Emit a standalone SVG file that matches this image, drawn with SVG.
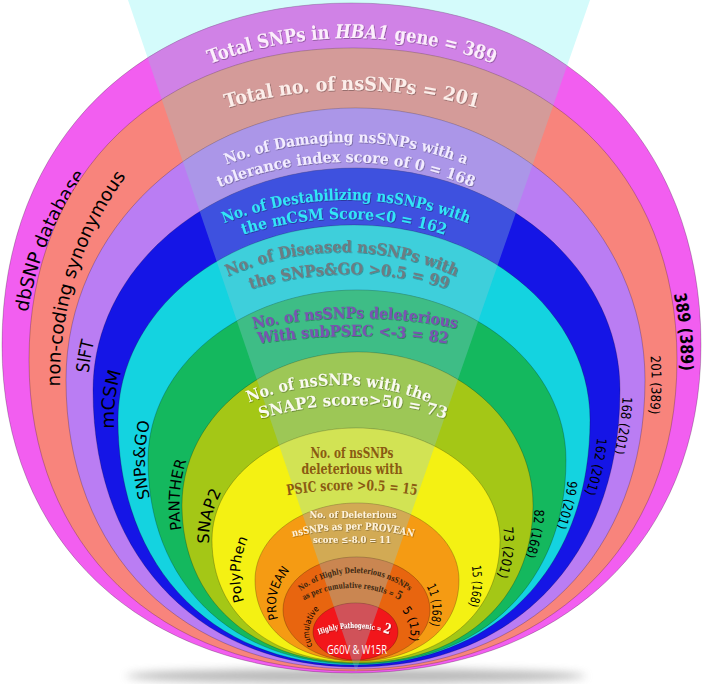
<svg xmlns="http://www.w3.org/2000/svg" width="703" height="684" viewBox="0 0 703 684">
<defs>
<style>
.t{font-family:"DejaVu Serif","Liberation Serif",serif;font-weight:bold;text-anchor:middle;}
.s{font-family:"DejaVu Sans","Liberation Sans",sans-serif;fill:#000;text-anchor:middle;}
.edge{stroke:#000;stroke-opacity:.22;stroke-width:1;}
.wg{fill:#8fc6d2;fill-opacity:.34;}
</style>
<filter id="sh" x="-5%" y="-20%" width="110%" height="140%"><feDropShadow dx="0.7" dy="0.7" stdDeviation="0.5" flood-color="#000" flood-opacity="0.4"/></filter>
<filter id="blur" x="-20%" y="-100%" width="140%" height="300%"><feGaussianBlur stdDeviation="4"/></filter>
<path id="p1" d="M2,345 C2,139.8 141.8,3 351.5,3 C561.2,3 701,139.8 701,345 C701,541.8 561.2,673 351.5,673 C141.8,673 2,541.8 2,345Z"/>
<path id="p2" d="M29,360 C29,172.8 158.6,48 353,48 C547.4,48 677,172.8 677,360 C677,546.6 547.4,671 353,671 C158.6,671 29,546.6 29,360Z"/>
<path id="p3" d="M66,380 C66,229.8 195.6,108 355.5,108 C515.4,108 645,229.8 645,380 C645,553.4 529.2,669 355.5,669 C181.8,669 66,553.4 66,380Z"/>
<path id="p4" d="M93,390 C93,267.4 211,168 356.5,168 C502,168 620,267.4 620,390 C620,556.2 514.6,667 356.5,667 C198.4,667 93,556.2 93,390Z"/>
<path id="p5" d="M118,420 C118,312.3 223.7,225 354,225 C484.3,225 590,312.3 590,420 C590,567 495.6,665 354,665 C212.4,665 118,567 118,420Z"/>
<path id="p6" d="M148,460 C148,366.1 241.6,290 357,290 C472.4,290 566,366.1 566,460 C566,582.4 482.4,664 357,664 C231.6,664 148,582.4 148,460Z"/>
<path id="p7" d="M182,505 C182,420.5 260.6,352 357.5,352 C454.4,352 533,420.5 533,505 C533,599.8 462.8,663 357.5,663 C252.2,663 182,599.8 182,505Z"/>
<path id="p8" d="M212,540 C212,478.1 276.5,428 356,428 C435.5,428 500,478.1 500,540 C500,613.2 442.4,662 356,662 C269.6,662 212,613.2 212,540Z"/>
<path id="p9" d="M255,580 C255,537.5 300.7,503 357,503 C413.3,503 459,537.5 459,580 C459,628.6 418.2,661 357,661 C295.8,661 255,628.6 255,580Z"/>
<path id="p10" d="M283,610 C283,580.7 315.9,557 356.5,557 C397.1,557 430,580.7 430,610 C430,638.2 397.1,661 356.5,661 C315.9,661 283,638.2 283,610Z"/>
<path id="p11" d="M313,632 C313,616 332,603 355.5,603 C379,603 398,616 398,632 C398,647.5 379,660 355.5,660 C332,660 313,647.5 313,632Z"/>
<clipPath id="c1"><use href="#p1"/></clipPath>
<clipPath id="c2"><use href="#p2"/></clipPath>
<clipPath id="c3"><use href="#p3"/></clipPath>
<clipPath id="c4"><use href="#p4"/></clipPath>
<clipPath id="c5"><use href="#p5"/></clipPath>
<clipPath id="c6"><use href="#p6"/></clipPath>
<clipPath id="c7"><use href="#p7"/></clipPath>
<clipPath id="c8"><use href="#p8"/></clipPath>
<clipPath id="c9"><use href="#p9"/></clipPath>
<clipPath id="c10"><use href="#p10"/></clipPath>
<clipPath id="c11"><use href="#p11"/></clipPath>
<polygon id="wedge" points="128,0 590,0 356,672"/>
<path id="tp1" d="M152,91 A404,404 0 0 1 552,91"/>
<path id="tp2" d="M172,127.6 A450,450 0 0 1 532,127.6"/>
<path id="tp3a" d="M176,189.2 A330,330 0 0 1 516,189.2"/>
<path id="tp3b" d="M176,209.2 A330,330 0 0 1 516,209.2"/>
<path id="tp4a" d="M186,241.4 A330,330 0 0 1 506,241.4"/>
<path id="tp4b" d="M184,260.4 A330,330 0 0 1 504,260.4"/>
<path id="tp5a" d="M192,295.6 A280,280 0 0 1 492,295.6"/>
<path id="tp5b" d="M199,310.1 A330,330 0 0 1 499,310.1"/>
<path id="tp6a" d="M205,341 A500,500 0 0 1 505,341"/>
<path id="tp6b" d="M203,355.1 A600,600 0 0 1 503,355.1"/>
<path id="tp7a" d="M199,430.1 A240,240 0 0 1 479,430.1"/>
<path id="tp7b" d="M213,437.3 A320,320 0 0 1 493,437.3"/>
<path id="tp8c" d="M252,502.7 A400,400 0 0 1 452,502.7"/>
<path id="tp9b" d="M273,542.6 A250,250 0 0 1 433,542.6"/>
<path id="tp10a" d="M285,606.4 A90,90 0 0 1 425,606.4"/>
<path id="tp10b" d="M282,616.6 A100,100 0 0 1 422,616.6"/>
<path id="tp11" d="M304,641.4 A100,100 0 0 1 404,641.4"/>
<path id="lp1" d="M27.2,404.1 A329,317 0 0 1 150.4,110.2"/>
<path id="lp2" d="M60.2,391.3 A295,323 0 0 1 129,172.4"/>
<path id="lp3" d="M104.2,467.6 A268.5,227 0 0 1 139.3,256.6"/>
<path id="lp4" d="M136.5,504.5 A240,200 0 0 1 159.8,302.4"/>
<path id="lp5" d="M173.4,547.5 A212,175 0 0 1 173.4,372.5"/>
<path id="lp6" d="M203.3,585 A178,160 0 0 1 215.3,408.7"/>
<path id="lp7" d="M217.9,581 A147,120 0 0 1 245.1,461.3"/>
<path id="lp8" d="M255.7,625 A117,100 0 0 1 262.3,516.2"/>
<path id="lp9" d="M283.6,631.2 A81,62 0 0 1 299.7,561.2"/>
<path id="lp10" d="M320,655.1 A47,36 0 0 1 329,602.5"/>
<path id="rp1" d="M637,202 A328,316 0 0 1 661.2,468"/>
<path id="rp2" d="M623.8,262.1 A296,279 0 0 1 619.2,506.7"/>
<path id="rp3" d="M610.9,316.9 A266,250 0 0 1 579.6,526.2"/>
<path id="rp4" d="M597.4,404 A244,230 0 0 1 571.5,524.4"/>
<path id="rp5" d="M568.2,443 A212,195 0 0 1 538.7,560.4"/>
<path id="rp6" d="M532.8,482.7 A177,160 0 0 1 513.8,580.1"/>
<path id="rp7" d="M500.8,514 A148,125 0 0 1 492.2,588.8"/>
<path id="rp8" d="M469,555.4 A116,95 0 0 1 464.6,615.6"/>
<path id="rp9" d="M427,587.5 A76,60 0 0 1 430.5,623.5"/>
<path id="rp10" d="M397.6,606.3 A55,40 0 0 1 407.2,645.7"/>
</defs>
<rect width="703" height="684" fill="#fff"/>
<use href="#wedge" fill="#D4FBFB"/>
<ellipse cx="356" cy="676" rx="230" ry="7" fill="#888" opacity="0.6" filter="url(#blur)"/>

<g id="dbsnp">
<use href="#p1" fill="#F25EF0" class="edge"/>
<use href="#wedge" class="wg" clip-path="url(#c1)"/>
<text class="t" font-size="19" fill="#FCEEFC" filter="url(#sh)"><textPath href="#tp1" startOffset="50%" textLength="290" lengthAdjust="spacingAndGlyphs">Total SNPs in <tspan font-style="italic">HBA1</tspan> gene = 389</textPath></text>
<text class="s" font-size="18.5"><textPath href="#lp1" startOffset="50%" textLength="150" lengthAdjust="spacingAndGlyphs">dbSNP database</textPath></text>
<text class="s" font-size="17" font-weight="bold"><textPath href="#rp1" startOffset="50%" textLength="77" lengthAdjust="spacingAndGlyphs">389 (389)</textPath></text>
</g>

<g id="noncoding">
<use href="#p2" fill="#F8847C" class="edge"/>
<use href="#wedge" class="wg" clip-path="url(#c2)"/>
<text class="t" font-size="19" fill="#FCEEEA" filter="url(#sh)"><textPath href="#tp2" startOffset="50%" textLength="255" lengthAdjust="spacingAndGlyphs">Total no. of nsSNPs = 201</textPath></text>
<text class="s" font-size="18.5"><textPath href="#lp2" startOffset="50%" textLength="224" lengthAdjust="spacingAndGlyphs">non-coding synonymous</textPath></text>
<text class="s" font-size="13.5"><textPath href="#rp2" startOffset="50%" textLength="58" lengthAdjust="spacingAndGlyphs">201 (389)</textPath></text>
</g>

<g id="sift">
<use href="#p3" fill="#BA7DF3" class="edge"/>
<use href="#wedge" class="wg" clip-path="url(#c3)"/>
<text class="t" font-size="15" fill="#F2ECFF" filter="url(#sh)"><textPath href="#tp3a" startOffset="50%" textLength="245" lengthAdjust="spacingAndGlyphs">No. of Damaging nsSNPs with a</textPath></text>
<text class="t" font-size="15" fill="#F2ECFF" filter="url(#sh)"><textPath href="#tp3b" startOffset="50%" textLength="260" lengthAdjust="spacingAndGlyphs">tolerance index score of 0 = 168</textPath></text>
<text class="s" font-size="18"><textPath href="#lp3" startOffset="50%" textLength="32" lengthAdjust="spacingAndGlyphs">SIFT</textPath></text>
<text class="s" font-size="13.5"><textPath href="#rp3" startOffset="50%" textLength="57" lengthAdjust="spacingAndGlyphs">168 (201)</textPath></text>
</g>

<g id="mcsm">
<use href="#p4" fill="#1515E6" class="edge"/>
<use href="#wedge" class="wg" clip-path="url(#c4)"/>
<text class="t" font-size="15.5" fill="#33E6F7" filter="url(#sh)"><textPath href="#tp4a" startOffset="50%" textLength="250" lengthAdjust="spacingAndGlyphs">No. of Destabilizing nsSNPs with</textPath></text>
<text class="t" font-size="15.5" fill="#33E6F7" filter="url(#sh)"><textPath href="#tp4b" startOffset="50%" textLength="205" lengthAdjust="spacingAndGlyphs">the mCSM Score&lt;0  = 162</textPath></text>
<text class="s" font-size="18"><textPath href="#lp4" startOffset="50%" textLength="58" lengthAdjust="spacingAndGlyphs">mCSM</textPath></text>
<text class="s" font-size="13.5"><textPath href="#rp4" startOffset="50%" textLength="57" lengthAdjust="spacingAndGlyphs">162 (201)</textPath></text>
</g>

<g id="snpsgo">
<use href="#p5" fill="#14D3E0" class="edge"/>
<use href="#wedge" class="wg" clip-path="url(#c5)"/>
<text class="t" font-size="16" fill="#6E7C82" filter="url(#sh)"><textPath href="#tp5a" startOffset="50%" textLength="235" lengthAdjust="spacingAndGlyphs">No. of Diseased nsSNPs with</textPath></text>
<text class="t" font-size="16" fill="#6E7C82" filter="url(#sh)"><textPath href="#tp5b" startOffset="50%" textLength="200" lengthAdjust="spacingAndGlyphs">the SNPs&amp;GO &gt;0.5  = 99</textPath></text>
<text class="s" font-size="16"><textPath href="#lp5" startOffset="50%" textLength="77" lengthAdjust="spacingAndGlyphs">SNPs&amp;GO</textPath></text>
<text class="s" font-size="13.5"><textPath href="#rp5" startOffset="50%" textLength="48" lengthAdjust="spacingAndGlyphs">99 (201)</textPath></text>
</g>

<g id="panther">
<use href="#p6" fill="#14B85E" class="edge"/>
<use href="#wedge" class="wg" clip-path="url(#c6)"/>
<text class="t" font-size="15.5" fill="#7A52B2" filter="url(#sh)"><textPath href="#tp6a" startOffset="50%" textLength="205" lengthAdjust="spacingAndGlyphs">No. of nsSNPs deleterious</textPath></text>
<text class="t" font-size="15.5" fill="#7A52B2" filter="url(#sh)"><textPath href="#tp6b" startOffset="50%" textLength="190" lengthAdjust="spacingAndGlyphs">With subPSEC  &lt;-3 = 82</textPath></text>
<text class="s" font-size="15"><textPath href="#lp6" startOffset="50%" textLength="70" lengthAdjust="spacingAndGlyphs">PANTHER</textPath></text>
<text class="s" font-size="13.5"><textPath href="#rp6" startOffset="50%" textLength="48" lengthAdjust="spacingAndGlyphs">82 (168)</textPath></text>
</g>

<g id="snap2">
<use href="#p7" fill="#A4C716" class="edge"/>
<use href="#wedge" class="wg" clip-path="url(#c7)"/>
<text class="t" font-size="16" fill="#FAFAF0" filter="url(#sh)"><textPath href="#tp7a" startOffset="50%" textLength="185" lengthAdjust="spacingAndGlyphs">No. of nsSNPs with the</textPath></text>
<text class="t" font-size="16" fill="#FAFAF0" filter="url(#sh)"><textPath href="#tp7b" startOffset="50%" textLength="188" lengthAdjust="spacingAndGlyphs">SNAP2 score&gt;50  = 73</textPath></text>
<text class="s" font-size="16"><textPath href="#lp7" startOffset="50%" textLength="54" lengthAdjust="spacingAndGlyphs">SNAP2</textPath></text>
<text class="s" font-size="13.5"><textPath href="#rp7" startOffset="50%" textLength="50" lengthAdjust="spacingAndGlyphs">73 (201)</textPath></text>
</g>

<g id="polyphen">
<use href="#p8" fill="#F4F113" class="edge"/>
<use href="#wedge" class="wg" clip-path="url(#c8)"/>
<text class="t" font-size="14" fill="#8A5A12" x="352" y="458" textLength="83" lengthAdjust="spacingAndGlyphs">No. of nsSNPs</text>
<text class="t" font-size="14" fill="#8A5A12" x="352" y="474" textLength="101" lengthAdjust="spacingAndGlyphs">deleterious with</text>
<text class="t" font-size="14.5" fill="#8A5A12"><textPath href="#tp8c" startOffset="50%" textLength="130" lengthAdjust="spacingAndGlyphs">PSIC score &gt;0.5 = 15</textPath></text>
<text class="s" font-size="14"><textPath href="#lp8" startOffset="50%" textLength="64" lengthAdjust="spacingAndGlyphs">PolyPhen</textPath></text>
<text class="s" font-size="12.5"><textPath href="#rp8" startOffset="50%" textLength="40" lengthAdjust="spacingAndGlyphs">15 (168)</textPath></text>
</g>

<g id="provean">
<use href="#p9" fill="#F59B13" class="edge"/>
<use href="#wedge" class="wg" clip-path="url(#c9)"/>
<text class="t" font-size="10" fill="#FFF3DC" x="353" y="518" textLength="87" lengthAdjust="spacingAndGlyphs" filter="url(#sh)">No. of Deleterious</text>
<text class="t" font-size="10" fill="#FFF3DC" filter="url(#sh)"><textPath href="#tp9b" startOffset="50%" textLength="122" lengthAdjust="spacingAndGlyphs">nsSNPs as per PROVEAN</textPath></text>
<text class="t" font-size="10" fill="#FFF3DC" x="352" y="543" textLength="78" lengthAdjust="spacingAndGlyphs" filter="url(#sh)">score ≤-8.0 = 11</text>
<text class="s" font-size="12.5"><textPath href="#lp9" startOffset="50%" textLength="52" lengthAdjust="spacingAndGlyphs">PROVEAN</textPath></text>
<text class="s" font-size="12.5"><textPath href="#rp9" startOffset="50%" textLength="40" lengthAdjust="spacingAndGlyphs">11 (168)</textPath></text>
</g>

<g id="cumulative">
<use href="#p10" fill="#E8650F" class="edge"/>
<use href="#wedge" class="wg" clip-path="url(#c10)"/>
<text class="t" font-size="8" fill="#3B2610"><textPath href="#tp10a" startOffset="50%" textLength="116" lengthAdjust="spacingAndGlyphs">No. of Highly Deleterious nsSNPs</textPath></text>
<text class="t" font-size="8" fill="#3B2610"><textPath href="#tp10b" startOffset="50%" textLength="100" lengthAdjust="spacingAndGlyphs">as per cumulative results = <tspan font-size="12">5</tspan></textPath></text>
<text class="s" font-size="8.5"><textPath href="#lp10" startOffset="50%" textLength="40" lengthAdjust="spacingAndGlyphs">cumulative</textPath></text>
<text class="s" font-size="12"><textPath href="#rp10" startOffset="50%" textLength="32" lengthAdjust="spacingAndGlyphs">5 (15)</textPath></text>
</g>

<g id="pathogenic">
<use href="#p11" fill="#F2161B" class="edge"/>
<use href="#wedge" class="wg" clip-path="url(#c11)"/>
<text class="t" font-size="7.5" fill="#FFFFFF" filter="url(#sh)"><textPath href="#tp11" startOffset="50%" textLength="72" lengthAdjust="spacingAndGlyphs">Highly Pathogenic = <tspan font-size="14">2</tspan></textPath></text>
<text x="357" y="654" font-family="Open Sans, Liberation Sans, sans-serif" font-size="12.5" fill="#FFFFFF" text-anchor="middle" textLength="60" lengthAdjust="spacingAndGlyphs">G60V &amp; W15R</text>
</g>
<g id="connectors"/>
</svg>
